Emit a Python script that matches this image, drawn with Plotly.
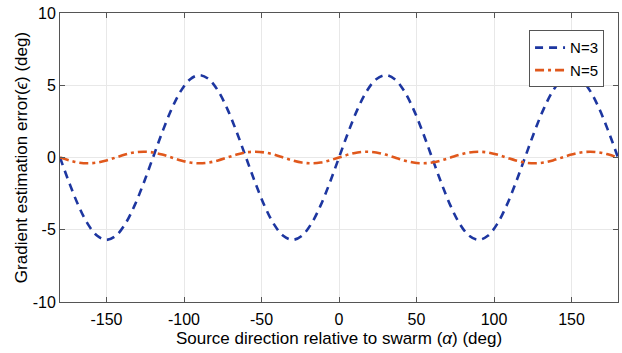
import plotly.graph_objects as go

alpha = [-180, -174, -168, -162, -156, -150, -144, -138, -132, -126,
         -120, -114, -108, -102, -96, -90, -84, -78, -72, -66,
         -60, -54, -48, -42, -36, -30, -24, -18, -12, -6,
         0, 6, 12, 18, 24, 30, 36, 42, 48, 54,
         60, 66, 72, 78, 84, 90, 96, 102, 108, 114,
         120, 126, 132, 138, 144, 150, 156, 162, 168, 174, 180]

err_n3 = [0, -1.76, -3.35, -4.61, -5.42, -5.7, -5.42, -4.61, -3.35, -1.76,
          0, 1.76, 3.35, 4.61, 5.42, 5.7, 5.42, 4.61, 3.35, 1.76,
          0, -1.76, -3.35, -4.61, -5.42, -5.7, -5.42, -4.61, -3.35, -1.76,
          0, 1.76, 3.35, 4.61, 5.42, 5.7, 5.42, 4.61, 3.35, 1.76,
          0, -1.76, -3.35, -4.61, -5.42, -5.7, -5.42, -4.61, -3.35, -1.76,
          0, 1.76, 3.35, 4.61, 5.42, 5.7, 5.42, 4.61, 3.35, 1.76, 0]

err_n5 = [0, -0.2, -0.35, -0.4, -0.35, -0.2, 0, 0.2, 0.35, 0.4, 0.35, 0.2,
          0, -0.2, -0.35, -0.4, -0.35, -0.2, 0, 0.2, 0.35, 0.4, 0.35, 0.2,
          0, -0.2, -0.35, -0.4, -0.35, -0.2, 0, 0.2, 0.35, 0.4, 0.35, 0.2,
          0, -0.2, -0.35, -0.4, -0.35, -0.2, 0, 0.2, 0.35, 0.4, 0.35, 0.2,
          0, -0.2, -0.35, -0.4, -0.35, -0.2, 0, 0.2, 0.35, 0.4, 0.35, 0.2, 0]

x_ticks = [-150, -100, -50, 0, 50, 100, 150]
x_tick_labels = ["-150", "-100", "-50", "0", "50", "100", "150"]
y_ticks = [-10, -5, 0, 5, 10]
y_tick_labels = ["-10", "-5", "0", "5", "10"]

FONT = "Liberation Sans, Arial, sans-serif"

fig = go.Figure()
fig.add_trace(go.Scatter(x=alpha, y=err_n3, mode="lines", name="N=3",
                         line=dict(color="#1d36a0", width=2.6, dash="8px,6px", shape="spline")))
fig.add_trace(go.Scatter(x=alpha, y=err_n5, mode="lines", name="N=5",
                         line=dict(color="#e0581c", width=2.6, dash="9px,4px,3px,4px", shape="spline")))

axis_common = dict(showgrid=True, gridcolor="#e8e8e8", gridwidth=1, zeroline=False,
                   showline=True, linecolor="#555555", linewidth=1, mirror="allticks",
                   ticks="inside", ticklen=5, tickcolor="#555555",
                   tickfont=dict(family=FONT, size=16, color="black"))

fig.update_xaxes(range=[-180, 180], tickvals=x_ticks, ticktext=x_tick_labels,
                 ticklabelstandoff=3,
                 title=dict(text="Source direction relative to swarm (<i>α</i>) (deg)",
                            font=dict(family=FONT, size=17, color="black"),
                            standoff=4),
                 **axis_common)
fig.update_yaxes(range=[-10, 10], tickvals=y_ticks, ticktext=y_tick_labels,
                 title=dict(text="Gradient estimation error(<i>ϵ</i>) (deg)",
                            font=dict(family=FONT, size=17, color="black"),
                            standoff=0),
                 **axis_common)

fig.update_layout(width=622, height=353, margin=dict(l=60, r=4, t=13, b=51),
                  paper_bgcolor="white", plot_bgcolor="white",
                  legend=dict(x=0.975, y=0.94, xanchor="right", yanchor="top",
                              bgcolor="white", bordercolor="#555555", borderwidth=1,
                              font=dict(family=FONT, size=15, color="black"),
                              tracegroupgap=0, itemwidth=30),
                  showlegend=True)

fig.write_html("out.html")
